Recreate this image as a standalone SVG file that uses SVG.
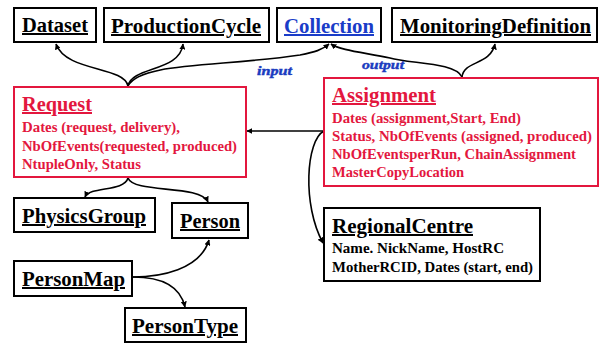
<svg xmlns="http://www.w3.org/2000/svg" width="600" height="343" viewBox="0 0 600 343">
<defs>
<marker id="ah" viewBox="0 0 10 10" refX="9" refY="5" markerWidth="6" markerHeight="6" orient="auto-start-reverse" markerUnits="userSpaceOnUse">
<path d="M0,0 L10,5 L0,10 z" fill="#000"/>
</marker>
<style>
.box{fill:#fff;stroke:#000;stroke-width:2}
.rbox{fill:#fff;stroke:#e3173e;stroke-width:2}
.t{font-family:"Liberation Serif","Times New Roman",serif;font-weight:bold;font-size:20px;text-decoration:underline;fill:#000}
.rt{fill:#e3173e}
.bt{fill:#1a3cc8}
.a{font-family:"Liberation Serif","Times New Roman",serif;font-weight:bold;font-size:14.5px;fill:#000}
.ra{fill:#e3173e}
.lbl{font-family:"Liberation Serif","Times New Roman",serif;font-weight:bold;font-style:italic;font-size:12px;fill:#1a3cc0;stroke:#1a3cc0;stroke-width:0.4}
.c{fill:none;stroke:#000;stroke-width:1.6;marker-end:url(#ah)}
</style>
</defs>
<rect width="600" height="343" fill="#fff"/>
<g id="connectors">
<path class="c" d="M128,86 C124,66 66,72 56,44"/>
<path class="c" d="M128,86 C132,66 180,72 183,44"/>
<path class="c" d="M128,86 C140,62 220,67 300,55 C315,52 322,50 329,44"/>
<path class="c" d="M462,77 C455,62 410,64 390,58 C360,52 340,50 331,44"/>
<path class="c" d="M462,77 C464,60 490,66 495,44"/>
<path class="c" d="M324,131 L247,131"/>
<path class="c" d="M324,131 C306,140 302,205 323,243"/>
<path class="c" d="M128,178 C124,192 90,186 85,197"/>
<path class="c" d="M128,178 C134,194 200,184 208,202"/>
<path class="c" d="M133,277 C160,277 200,270 209,240"/>
<path class="c" d="M133,277 C160,277 180,285 185,307"/>
<text class="lbl" x="257" y="75" textLength="35" lengthAdjust="spacingAndGlyphs">input</text>
<text class="lbl" x="362" y="69" textLength="42" lengthAdjust="spacingAndGlyphs">output</text>
</g>
<g id="Dataset">
<rect class="box" x="14" y="8" width="82" height="34"/>
<text class="t" x="22" y="32" textLength="66" lengthAdjust="spacingAndGlyphs">Dataset</text>
</g>
<g id="ProductionCycle">
<rect class="box" x="104" y="8" width="165" height="34"/>
<text class="t" x="111" y="33" textLength="150" lengthAdjust="spacingAndGlyphs">ProductionCycle</text>
</g>
<g id="Collection">
<rect class="box" x="277" y="8" width="104" height="34"/>
<text class="t bt" x="284" y="33" textLength="90" lengthAdjust="spacingAndGlyphs">Collection</text>
</g>
<g id="MonitoringDefinition">
<rect class="box" x="392" y="8" width="205" height="34"/>
<text class="t" x="400" y="33" textLength="191" lengthAdjust="spacingAndGlyphs">MonitoringDefinition</text>
</g>
<g id="Request">
<rect class="rbox" x="14" y="87" width="232" height="90"/>
<text class="t rt" x="22" y="111" textLength="70" lengthAdjust="spacingAndGlyphs">Request</text>
<text class="a ra" x="22" y="132" textLength="158" lengthAdjust="spacingAndGlyphs">Dates (request, delivery),</text>
<text class="a ra" x="22" y="151" textLength="215" lengthAdjust="spacingAndGlyphs">NbOfEvents(requested, produced)</text>
<text class="a ra" x="22" y="169" textLength="119" lengthAdjust="spacingAndGlyphs">NtupleOnly, Status</text>
</g>
<g id="Assignment">
<rect class="rbox" x="324" y="78" width="274" height="108"/>
<text class="t rt" x="332" y="102" textLength="104" lengthAdjust="spacingAndGlyphs">Assignment</text>
<text class="a ra" x="332" y="123" textLength="189" lengthAdjust="spacingAndGlyphs">Dates (assignment,Start, End)</text>
<text class="a ra" x="332" y="141" textLength="260" lengthAdjust="spacingAndGlyphs">Status, NbOfEvents (assigned, produced)</text>
<text class="a ra" x="332" y="159" textLength="244" lengthAdjust="spacingAndGlyphs">NbOfEventsperRun, ChainAssignment</text>
<text class="a ra" x="332" y="177" textLength="132" lengthAdjust="spacingAndGlyphs">MasterCopyLocation</text>
</g>
<g id="RegionalCentre">
<rect class="box" x="324" y="208" width="216" height="73"/>
<text class="t" x="332" y="233" textLength="141" lengthAdjust="spacingAndGlyphs">RegionalCentre</text>
<text class="a" x="332" y="253" textLength="172" lengthAdjust="spacingAndGlyphs">Name. NickName, HostRC</text>
<text class="a" x="332" y="272" textLength="201" lengthAdjust="spacingAndGlyphs">MotherRCID, Dates (start, end)</text>
</g>
<g id="PhysicsGroup">
<rect class="box" x="14" y="198" width="141" height="34"/>
<text class="t" x="22" y="223" textLength="124" lengthAdjust="spacingAndGlyphs">PhysicsGroup</text>
</g>
<g id="Person">
<rect class="box" x="172" y="203" width="76" height="35"/>
<text class="t" x="180" y="228" textLength="60" lengthAdjust="spacingAndGlyphs">Person</text>
</g>
<g id="PersonMap">
<rect class="box" x="14" y="261" width="118" height="35"/>
<text class="t" x="22" y="286" textLength="103" lengthAdjust="spacingAndGlyphs">PersonMap</text>
</g>
<g id="PersonType">
<rect class="box" x="125" y="308" width="121" height="34"/>
<text class="t" x="132" y="333" textLength="106" lengthAdjust="spacingAndGlyphs">PersonType</text>
</g>
</svg>
